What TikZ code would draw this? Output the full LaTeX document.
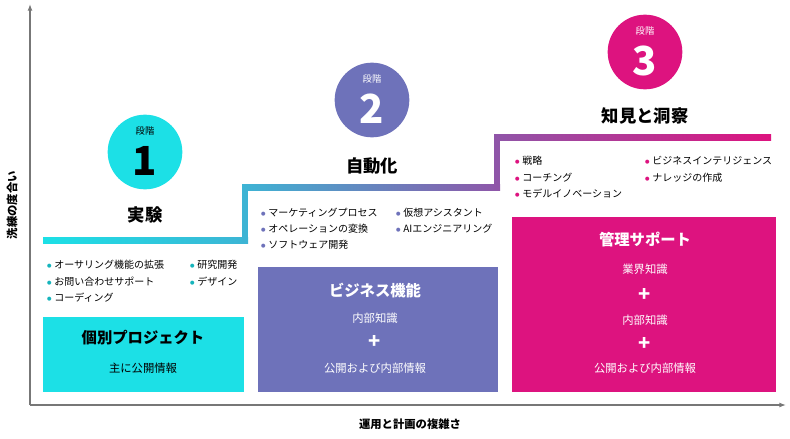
\documentclass[tikz,border=0pt]{standalone}
\usepackage{fontspec}
\setmainfont{Noto Sans CJK JP}
\usetikzlibrary{arrows.meta, positioning, calc}
\definecolor{stepcyan}{HTML}{1CE0E6}
\definecolor{steppurple}{HTML}{6E72BA}
\definecolor{stepmagenta}{HTML}{DD137F}
\definecolor{dotcyan}{HTML}{16B4BC}
\definecolor{axisgray}{HTML}{777777}
\tikzset{
  stagecircle/.style={circle, minimum size=56pt, inner sep=0pt},
  stagenum/.style={font=\bfseries\fontsize{30}{30}\selectfont},
  stagetitle/.style={font=\bfseries\fontsize{13}{14}\selectfont},
  item/.style={anchor=west, font=\fontsize{7.5}{8}\selectfont, inner sep=1pt},
  boxtitle/.style={font=\bfseries\fontsize{11.5}{13}\selectfont},
  boxtext/.style={font=\fontsize{8.5}{10}\selectfont},
  plus/.style={font=\bfseries\fontsize{15}{15}\selectfont}
}
\newcommand{\itm}[4]{\node[item] (#1) at (#2) {\textcolor{#3}{$\bullet$}\ #4};}
\begin{document}
\begin{tikzpicture}[x=0.75pt, y=-0.75pt]
  \useasboundingbox (0,0) rectangle (790,439);
  % Axes
  \coordinate (origin) at (30,405);
  \coordinate (ytop) at (30,4);
  \coordinate (xend) at (786,405);
  \draw[axisgray, line width=1.2pt, -{Latex[length=5pt]}] (origin) -- (ytop);
  \draw[axisgray, line width=1.2pt, -{Latex[length=5pt]}] (origin) -- (xend);
  \node[rotate=90, font=\bfseries\fontsize{8.5}{10}\selectfont] (ylabel) at (12,205) {洗練の度合い};
  \node[font=\bfseries\fontsize{8.5}{10}\selectfont] (xlabel) at (410,424) {運用と計画の複雑さ};
  % Stair line
  \shade[left color=stepcyan, right color=stepcyan!60!steppurple] (43,237) rectangle (248,243);
  \fill[stepcyan!60!steppurple] (242,184) rectangle (248,243);
  \shade[left color=stepcyan!60!steppurple, right color=steppurple!70!stepmagenta] (242,184) rectangle (500,190);
  \fill[steppurple!70!stepmagenta] (494,134) rectangle (500,190);
  \shade[left color=steppurple!70!stepmagenta, right color=stepmagenta] (494,134) rectangle (771,140);
  % Stage 1
  \node[stagecircle, fill=stepcyan] (c1) at (145,152) {};
  \node[font=\fontsize{7}{8}\selectfont] (c1lbl) at ($(c1)+(0,-21)$) {段階};
  \node[stagenum] (c1num) at ($(c1)+(0,9)$) {1};
  \node[stagetitle] (t1) at (145,215) {実験};
  \itm{a1}{45,265}{dotcyan}{オーサリング機能の拡張}
  \itm{a2}{45,282}{dotcyan}{お問い合わせサポート}
  \itm{a3}{45,298}{dotcyan}{コーディング}
  \itm{a4}{188,265}{dotcyan}{研究開発}
  \itm{a5}{188,282}{dotcyan}{デザイン}
  \fill[stepcyan] (43,317) rectangle (244,392);
  \node[boxtitle] (b1) at (143,338) {個別プロジェクト};
  \node[boxtext] (b1a) at (143,368) {主に公開情報};
  % Stage 2
  \node[stagecircle, fill=steppurple] (c2) at (372,100) {};
  \node[font=\fontsize{7}{8}\selectfont, white] (c2lbl) at ($(c2)+(0,-21)$) {段階};
  \node[stagenum, white] (c2num) at ($(c2)+(0,9)$) {2};
  \node[stagetitle] (t2) at (372,166) {自動化};
  \itm{m1}{259,213}{steppurple}{マーケティングプロセス}
  \itm{m2}{259,229}{steppurple}{オペレーションの変換}
  \itm{m3}{259,245}{steppurple}{ソフトウェア開発}
  \itm{m4}{394,213}{steppurple}{仮想アシスタント}
  \itm{m5}{394,229}{steppurple}{AIエンジニアリング}
  \fill[steppurple] (258,267) rectangle (498,392);
  \node[boxtitle, white] (b2) at (375,291) {ビジネス機能};
  \node[boxtext, white] (b2a) at (375,318) {内部知識};
  \node[plus, white] (b2p) at (375,342) {+};
  \node[boxtext, white] (b2b) at (375,368) {公開および内部情報};
  % Stage 3
  \node[stagecircle, fill=stepmagenta] (c3) at (645,52) {};
  \node[font=\fontsize{7}{8}\selectfont, white] (c3lbl) at ($(c3)+(0,-21)$) {段階};
  \node[stagenum, white] (c3num) at ($(c3)+(0,9)$) {3};
  \node[stagetitle] (t3) at (645,116) {知見と洞察};
  \itm{s1}{513,161}{stepmagenta}{戦略}
  \itm{s2}{513,178}{stepmagenta}{コーチング}
  \itm{s3}{513,194}{stepmagenta}{モデルイノベーション}
  \itm{s4}{643,161}{stepmagenta}{ビジネスインテリジェンス}
  \itm{s5}{643,178}{stepmagenta}{ナレッジの作成}
  \fill[stepmagenta] (512,217) rectangle (776,392);
  \node[boxtitle, white] (b3) at (645,240) {管理サポート};
  \node[boxtext, white] (b3a) at (645,269) {業界知識};
  \node[plus, white] (b3p) at (645,295) {+};
  \node[boxtext, white] (b3b) at (645,320) {内部知識};
  \node[plus, white] (b3q) at (645,344) {+};
  \node[boxtext, white] (b3c) at (645,368) {公開および内部情報};
\end{tikzpicture}
\end{document}
